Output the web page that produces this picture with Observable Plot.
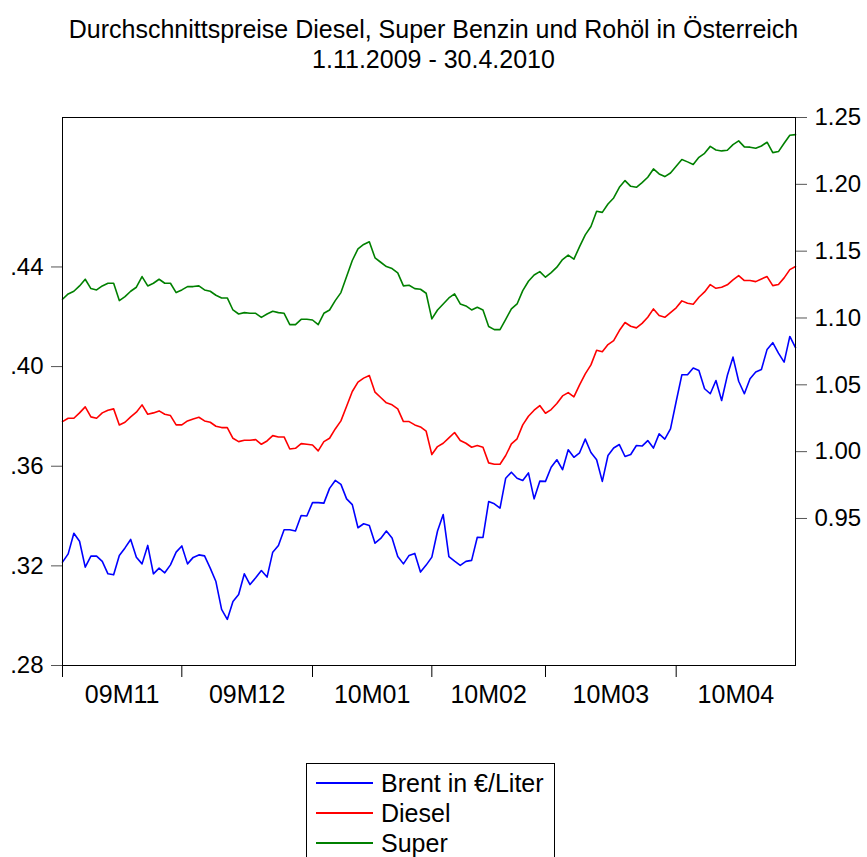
<!DOCTYPE html>
<html>
<head>
<meta charset="utf-8">
<script src="https://cdn.jsdelivr.net/npm/d3@7"></script>
<script src="https://cdn.jsdelivr.net/npm/@observablehq/plot@0.6"></script>
<style>
  html, body { margin: 0; padding: 0; background: white; }
  body { width: 867px; height: 857px; overflow: hidden; font-family: "Liberation Sans", Arial, sans-serif; color: black; }
  #title { font-size: 25px; line-height: 30px; text-align: center; padding-top: 14px; height: 60px; }
  #legend { margin-left: 306px; margin-top: 28px; width: 249px; box-sizing: border-box; border: 1px solid black; padding: 4px 0 6px 9px; }
  .row { display: flex; align-items: center; height: 30px; font-size: 25px; line-height: 30px; }
  .swatch { width: 57px; height: 2px; margin-right: 8px; }
</style>
</head>
<body>
<div id="title">Durchschnittspreise Diesel, Super Benzin und Rohöl in Österreich<br>1.11.2009 - 30.4.2010</div>
<div id="chart"></div>
<div id="legend"></div>
<script>
// ---- data (business days 2.11.2009 - 30.4.2010) ----
const brent = [
0.3215,0.3248,0.3331,0.3299,0.3195,0.3239,0.3239,0.3218,0.3168,0.3164,
0.3242,0.3272,0.3306,0.3235,0.3208,0.3282,0.3168,0.3191,0.3172,0.3204,
0.3255,0.3280,0.3208,0.3234,0.3244,0.3240,0.3191,0.3137,0.3025,0.2985,
0.3057,0.3085,0.3168,0.3125,0.3152,0.3181,0.3155,0.3255,0.3282,0.3345,
0.3345,0.3340,0.3402,0.3400,0.3454,0.3454,0.3452,0.3511,0.3543,0.3527,
0.3469,0.3446,0.3353,0.3369,0.3362,0.3291,0.3310,0.3340,0.3312,0.3238,
0.3208,0.3242,0.3250,0.3175,0.3203,0.3235,0.3340,0.3406,0.3237,0.3219,
0.3202,0.3218,0.3222,0.3315,0.3314,0.3458,0.3449,0.3432,0.3552,0.3576,
0.3552,0.3543,0.3573,0.3469,0.3540,0.3539,0.3596,0.3626,0.3586,0.3666,
0.3636,0.3654,0.3709,0.3655,0.3626,0.3539,0.3643,0.3673,0.3687,0.3639,
0.3647,0.3683,0.3681,0.3703,0.3673,0.3730,0.3709,0.3750,0.3860,0.3967,
0.3967,0.3994,0.3984,0.3911,0.3891,0.3944,0.3864,0.3964,0.4038,0.3941,
0.3891,0.3951,0.3978,0.3988,0.4069,0.4096,0.4054,0.4018,0.4121,0.4076
];
const diesel = [
1.0225,1.0250,1.0250,1.0290,1.0335,1.0260,1.0250,1.0290,1.0310,1.0320,
1.0200,1.0220,1.0260,1.0295,1.0350,1.0280,1.0290,1.0305,1.0280,1.0270,
1.0200,1.0200,1.0230,1.0245,1.0257,1.0230,1.0220,1.0190,1.0180,1.0180,
1.0100,1.0075,1.0085,1.0085,1.0090,1.0055,1.0080,1.0120,1.0110,1.0110,
1.0020,1.0025,1.0060,1.0055,1.0050,1.0006,1.0075,1.0100,1.0170,1.0230,
1.0340,1.0450,1.0520,1.0550,1.0570,1.0445,1.0405,1.0365,1.0350,1.0320,
1.0225,1.0225,1.0200,1.0185,1.0153,0.9978,1.0038,1.0063,1.0103,1.0143,
1.0083,1.0063,1.0033,1.0046,1.0033,0.9916,0.9906,0.9906,0.9971,1.0058,
1.0096,1.0200,1.0265,1.0310,1.0345,1.0287,1.0315,1.0360,1.0417,1.0442,
1.0410,1.0500,1.0582,1.0649,1.0759,1.0747,1.0801,1.0831,1.0906,1.0966,
1.0938,1.0926,1.0960,1.1005,1.1068,1.1018,1.1005,1.1040,1.1076,1.1128,
1.1110,1.1103,1.1155,1.1195,1.1250,1.1222,1.1230,1.1248,1.1285,1.1317,
1.1280,1.1280,1.1272,1.1292,1.1310,1.1242,1.1250,1.1300,1.1362,1.1385
];
const superBenzin = [
1.1140,1.1180,1.1200,1.1240,1.1290,1.1220,1.1210,1.1240,1.1260,1.1260,
1.1130,1.1160,1.1200,1.1230,1.1310,1.1240,1.1260,1.1290,1.1260,1.1260,
1.1190,1.1210,1.1235,1.1235,1.1240,1.1210,1.1200,1.1170,1.1150,1.1150,
1.1060,1.1030,1.1040,1.1035,1.1035,1.1005,1.1030,1.1050,1.1040,1.1035,
1.0950,1.0950,1.0990,1.0990,1.0985,1.0950,1.1035,1.1060,1.1130,1.1190,
1.1310,1.1430,1.1517,1.1550,1.1570,1.1450,1.1417,1.1385,1.1370,1.1337,
1.1240,1.1245,1.1220,1.1215,1.1185,1.0993,1.1060,1.1105,1.1150,1.1180,
1.1105,1.1090,1.1060,1.1080,1.1060,1.0936,1.0913,1.0913,1.0990,1.1068,
1.1105,1.1205,1.1275,1.1322,1.1347,1.1305,1.1340,1.1380,1.1437,1.1470,
1.1440,1.1534,1.1622,1.1684,1.1798,1.1790,1.1853,1.1898,1.1978,1.2028,
1.1985,1.1978,1.2013,1.2053,1.2115,1.2078,1.2058,1.2085,1.2135,1.2185,
1.2168,1.2148,1.2202,1.2232,1.2284,1.2257,1.2250,1.2255,1.2297,1.2325,
1.2280,1.2278,1.2270,1.2287,1.2315,1.2237,1.2245,1.2307,1.2367,1.2372
];
const monthLabels = ["09M11", "09M12", "10M01", "10M02", "10M03", "10M04"];
const leftTicks = [0.28, 0.32, 0.36, 0.40, 0.44];
const rightTicks = [0.95, 1.00, 1.05, 1.10, 1.15, 1.20, 1.25];
const leftDomain = [0.28, 0.50];
const rightDomain = [0.84, 1.25];
const seriesNames = ["Brent in €/Liter", "Diesel", "Super"];
const seriesColors = ["#0000ff", "#ff0000", "#008000"];

// ---- derived ----
const days = d3.timeDay.range(new Date(2009, 10, 1), new Date(2010, 4, 1))
  .filter(d => d.getDay() !== 0 && d.getDay() !== 6);
const N = brent.length;
const monthStarts = [];
days.forEach((d, i) => { if (i === 0 || d.getMonth() !== days[i - 1].getMonth()) monthStarts.push(i); });
const monthMids = monthStarts.map((s, k) => (s + (k + 1 < monthStarts.length ? monthStarts[k + 1] : N - 1)) / 2);

const toLeft = v => leftDomain[0] + (v - rightDomain[0]) / (rightDomain[1] - rightDomain[0]) * (leftDomain[1] - leftDomain[0]);
const fromLeft = v => rightDomain[0] + (v - leftDomain[0]) / (leftDomain[1] - leftDomain[0]) * (rightDomain[1] - rightDomain[0]);

const chart = Plot.plot({
  width: 867,
  height: 661,
  marginTop: 43,
  marginBottom: 70,
  marginLeft: 62,
  marginRight: 72,
  style: { fontFamily: "Liberation Sans, Arial, sans-serif", color: "black", background: "white" },
  x: { domain: [0, N - 1] },
  y: { domain: leftDomain },
  marks: [
    Plot.lineY(brent, { x: (d, i) => i, y: d => d, stroke: seriesColors[0], strokeWidth: 1.6 }),
    Plot.lineY(diesel, { x: (d, i) => i, y: d => toLeft(d), stroke: seriesColors[1], strokeWidth: 1.6 }),
    Plot.lineY(superBenzin, { x: (d, i) => i, y: d => toLeft(d), stroke: seriesColors[2], strokeWidth: 1.6 }),
    Plot.frame({ stroke: "black", strokeWidth: 1 }),
    Plot.axisY(leftTicks, { anchor: "left", tickSize: 11, tickPadding: 8, fontSize: 24, stroke: "#555",
      tickFormat: d => d3.format(".2f")(d).replace(/^0/, "") }),
    Plot.axisY(rightTicks.map(toLeft), { anchor: "right", tickSize: 11, tickPadding: 8, fontSize: 24, stroke: "#555",
      tickFormat: d => fromLeft(d).toFixed(2) }),
    Plot.axisX(monthStarts, { anchor: "bottom", tickSize: 12, tickFormat: () => "", stroke: "black" }),
    Plot.axisX(monthMids, { anchor: "bottom", tickSize: 0, tickPadding: 20, fontSize: 25,
      tickFormat: d => monthLabels[monthMids.indexOf(d)] })
  ]
});
document.getElementById("chart").appendChild(chart);

const legend = document.getElementById("legend");
seriesNames.forEach((name, i) => {
  const row = document.createElement("div");
  row.className = "row";
  const sw = document.createElement("div");
  sw.className = "swatch";
  sw.style.background = seriesColors[i];
  const t = document.createElement("span");
  t.textContent = name;
  row.appendChild(sw);
  row.appendChild(t);
  legend.appendChild(row);
});
</script>
</body>
</html>
